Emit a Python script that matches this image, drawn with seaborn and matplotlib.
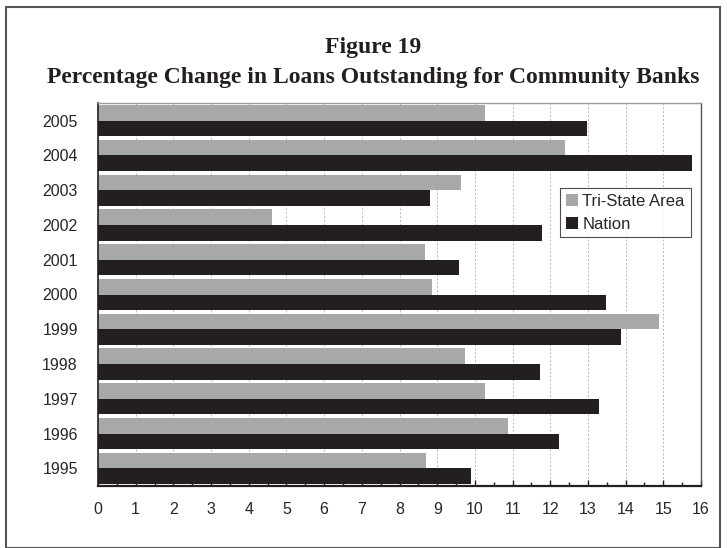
import numpy as np
import pandas as pd
import matplotlib
matplotlib.use("Agg")
import matplotlib.pyplot as plt
from matplotlib.patches import Rectangle
from matplotlib.ticker import MultipleLocator
import seaborn as sns

# -------------------- DATA --------------------
YEARS = ["2005", "2004", "2003", "2002", "2001", "2000",
         "1999", "1998", "1997", "1996", "1995"]
TRI_STATE = [10.27, 12.39, 9.62, 4.63, 8.68, 8.85,
             14.89, 9.75, 10.28, 10.88, 8.71]
NATION = [12.97, 15.77, 8.82, 11.78, 9.57, 13.48,
          13.89, 11.72, 13.29, 12.22, 9.90]
SERIES = ["Tri-State Area", "Nation"]
COLORS = ["#a7a9a8", "#231f20"]

df = pd.DataFrame({
    "year": YEARS * 2,
    "value": TRI_STATE + NATION,
    "series": [SERIES[0]] * len(YEARS) + [SERIES[1]] * len(YEARS),
})

# -------------------- PLOT --------------------
sns.set_style("white")
plt.rcParams["font.family"] = ["Liberation Sans", "DejaVu Sans"]
SERIF = ["Liberation Serif", "DejaVu Serif"]

fig = plt.figure(figsize=(7.27, 5.48), dpi=100)
ax = fig.add_axes([98 / 727, 1 - 485.7 / 548, 603 / 727, 382.4 / 548])

sns.barplot(data=df, y="year", x="value", hue="series", order=YEARS,
            hue_order=SERIES, palette=COLORS, orient="h", width=0.9,
            linewidth=0, saturation=1, ax=ax)

ax.set_xlim(0, 16)
ax.set_ylim(len(YEARS) - 0.5, -0.5)
ax.xaxis.set_major_locator(MultipleLocator(1))
ax.xaxis.set_minor_locator(MultipleLocator(0.5))
ax.grid(axis="x", which="major", color="#b5b5b5", linestyle=(0, (2, 2)),
        linewidth=0.7)
ax.set_axisbelow(True)
ax.set_xlabel("")
ax.set_ylabel("")

ax.tick_params(axis="x", which="both", direction="in", bottom=True,
               length=4, width=1, color="#231f20", labelsize=11.5, pad=12)
ax.tick_params(axis="x", which="minor", length=3)
ax.tick_params(axis="y", left=False, labelsize=11.5, pad=11)

for side, col, lw in [("left", "#231f20", 1.2), ("bottom", "#231f20", 1.6),
                      ("top", "#9a9a9a", 1.0), ("right", "#555555", 1.0)]:
    ax.spines[side].set_visible(True)
    ax.spines[side].set_color(col)
    ax.spines[side].set_linewidth(lw)

# legend box roughly x 560-691, y 188-238 px
leg = ax.legend(loc="upper left", bbox_to_anchor=(0.766, 0.778),
                frameon=True, fancybox=False, fontsize=12,
                handlelength=0.75, handleheight=0.75, handletextpad=0.25,
                borderpad=0.35, labelspacing=0.45, borderaxespad=0)
leg.get_frame().set_edgecolor("#231f20")
leg.get_frame().set_linewidth(0.8)

# title
fig.text(0.513, 1 - 53 / 548, "Figure 19", ha="center", va="baseline",
         fontsize=17, fontweight="bold", family=SERIF, color="#231f20")
fig.text(0.513, 1 - 83 / 548,
         "Percentage Change in Loans Outstanding for Community Banks",
         ha="center", va="baseline", fontsize=17, fontweight="bold",
         family=SERIF, color="#231f20")

# outer frame
fig.patches.append(Rectangle((6 / 727, 0.5 / 548), 714 / 727, 541 / 548,
                             transform=fig.transFigure, fill=False,
                             edgecolor="#555555", linewidth=1.5))

fig.savefig("out.png", dpi=100)
